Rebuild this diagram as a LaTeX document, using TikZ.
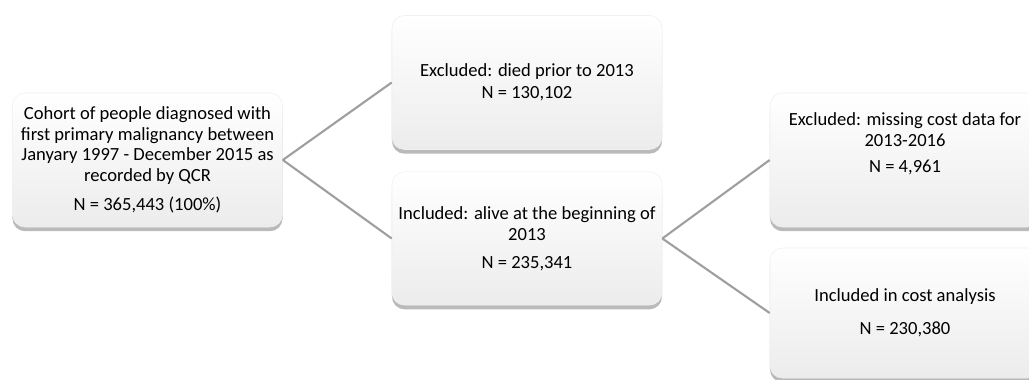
\documentclass[tikz,border=0pt]{standalone}
\usepackage{fontspec}
\setmainfont{Carlito}
\usepackage{tikz}
\usetikzlibrary{shadows, positioning}

\tikzset{
	stagebox/.style={rectangle, rounded corners=9pt, draw=gray!12, line width=0.4pt,
		top color=white, bottom color=gray!15, align=center,
		minimum width=6.75cm, minimum height=3.35cm, inner sep=2pt,
		font=\fontsize{13.2}{14.8}\selectfont,
		drop shadow={shadow xshift=0pt, shadow yshift=-3pt, opacity=0.45, fill=gray!80!black}},
	branch/.style={draw=gray!75, line width=1.5pt}
}

\begin{document}
\begin{tikzpicture}[x=0.025cm, y=-0.025cm]
	\useasboundingbox (0,0) rectangle (1029,380);

	%%%% whole cohort
	\node[stagebox] (cohort) at (147.5,160) {Cohort of people diagnosed with\\ first primary malignancy between\\ Janyary 1997 - December 2015 as\\ recorded by QCR\\[6pt] N = 365,443 (100\%)};

	%%%% first split
	\node[stagebox] (died) at (527,82.5) {Excluded: died prior to 2013\\[1pt] N = 130,102};
	\node[stagebox, minimum height=3.33cm] (alive) at (527,238.5) {Included: alive at the beginning of\\ 2013\\[5pt] N = 235,341};

	%%%% second split
	\node[stagebox] (missing) at (905,160) {Excluded: missing cost data for\\ 2013-2016\\[4pt] N = 4,961\\[10pt]};
	\node[stagebox, minimum height=3.25cm] (costs) at (905,313) {Included in cost analysis\\[9pt] N = 230,380};

	%%%% connectors
	\draw[branch] (cohort.east) -- (died.west);
	\draw[branch] (cohort.east) -- (alive.west);
	\draw[branch] (alive.east) -- (missing.west);
	\draw[branch] (alive.east) -- (costs.west);
\end{tikzpicture}
\end{document}
